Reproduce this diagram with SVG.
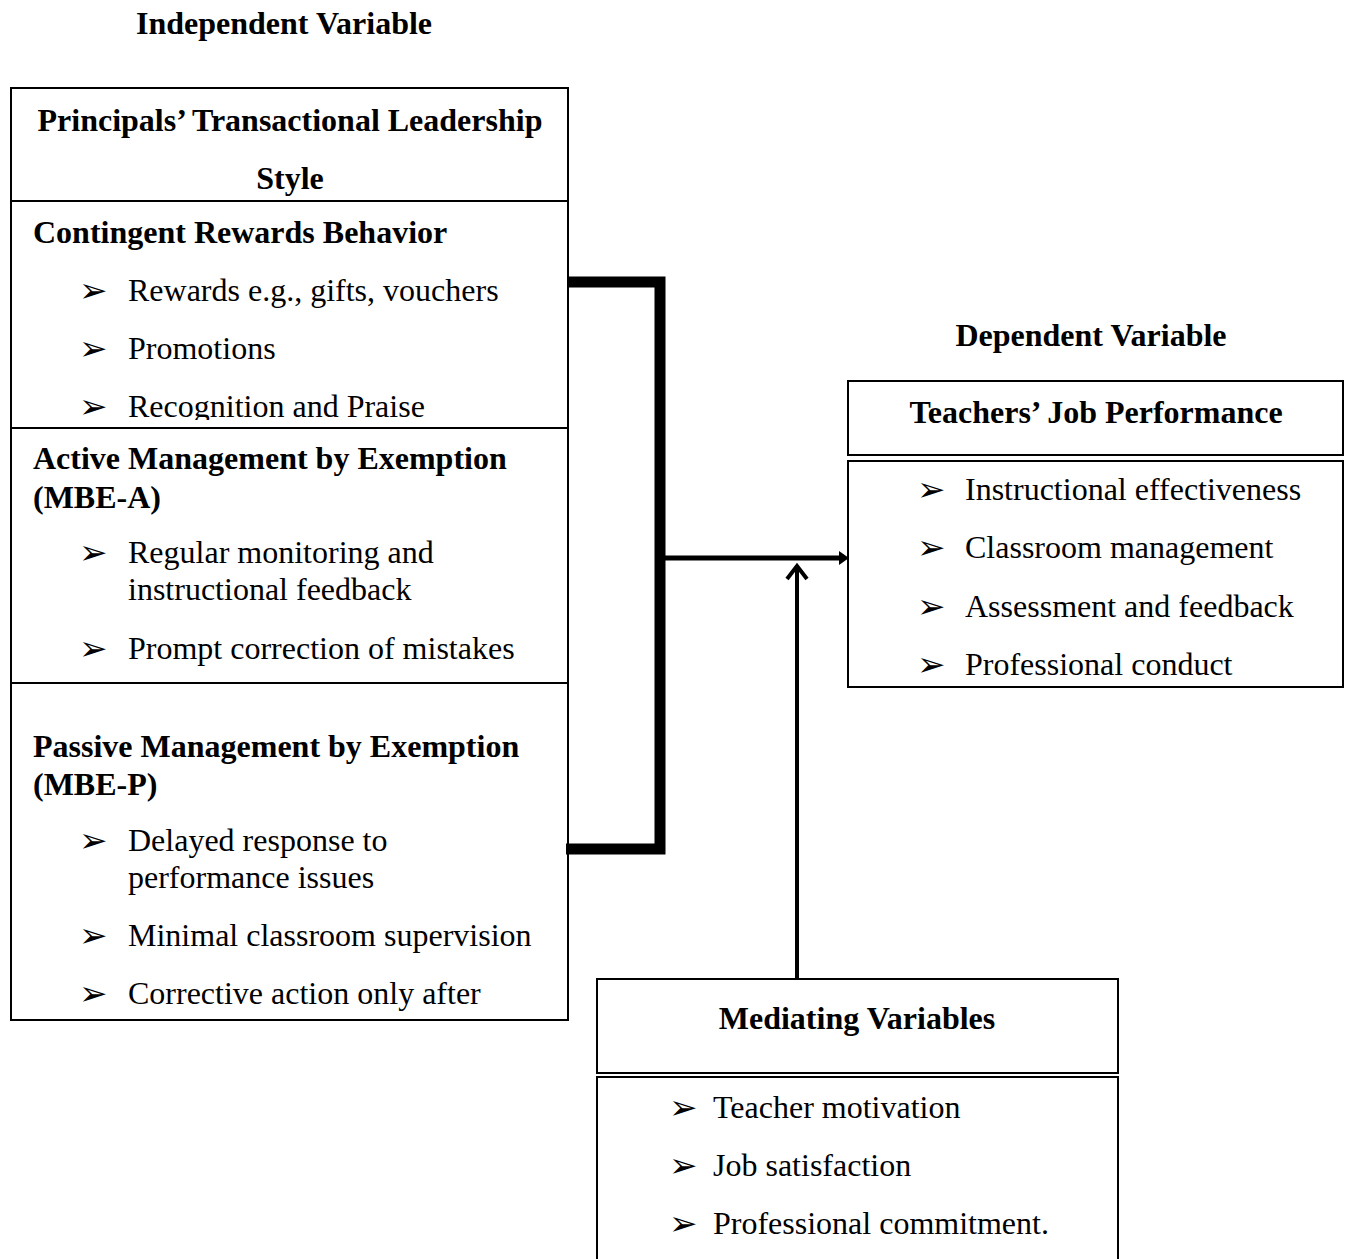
<svg xmlns="http://www.w3.org/2000/svg" width="1351" height="1259" viewBox="0 0 1351 1259">
<style>
.b{font-family:"Liberation Serif","Times New Roman",serif;font-weight:bold;font-size:32px;fill:#000}
.t{font-family:"Liberation Serif","Times New Roman",serif;font-size:32px;fill:#000}
.u{font-family:"DejaVu Sans",sans-serif;font-size:34px;fill:#000}
.box{fill:#fff;stroke:#000;stroke-width:2}
.mid{text-anchor:middle}
</style>
<rect width="1351" height="1259" fill="#fff"/>
<text class="b mid" x="284" y="34">Independent Variable</text>
<text class="b mid" x="1091" y="346">Dependent Variable</text>

<g id="independent">
<rect class="box" x="11" y="88" width="557" height="932"/>
<line x1="11" y1="201" x2="568" y2="201" stroke="#000" stroke-width="2"/>
<text class="b mid" x="290" y="131">Principals’ Transactional Leadership</text>
<text class="b mid" x="290" y="189">Style</text>
<text class="b" x="33" y="243">Contingent Rewards Behavior</text>
<text class="u" x="79" y="302">➢</text><text class="t" x="128" y="301">Rewards e.g., gifts, vouchers</text>
<text class="u" x="79" y="360">➢</text><text class="t" x="128" y="359">Promotions</text>
<text class="u" x="79" y="418">➢</text><text class="t" x="128" y="417">Recognition and Praise</text>
<rect x="12" y="420" width="555" height="8" fill="#fff"/>
<line x1="11" y1="428" x2="568" y2="428" stroke="#000" stroke-width="2"/>
<text class="b" x="33" y="469">Active Management by Exemption</text>
<text class="b" x="33" y="508">(MBE-A)</text>
<text class="u" x="79" y="564">➢</text><text class="t" x="128" y="563">Regular monitoring and</text>
<text class="t" x="128" y="600">instructional feedback</text>
<text class="u" x="79" y="660">➢</text><text class="t" x="128" y="659">Prompt correction of mistakes</text>
<line x1="11" y1="683" x2="568" y2="683" stroke="#000" stroke-width="2"/>
<text class="b" x="33" y="757">Passive Management by Exemption</text>
<text class="b" x="33" y="795">(MBE-P)</text>
<text class="u" x="79" y="852">➢</text><text class="t" x="128" y="851">Delayed response to</text>
<text class="t" x="128" y="888">performance issues</text>
<text class="u" x="79" y="947">➢</text><text class="t" x="128" y="946">Minimal classroom supervision</text>
<text class="u" x="79" y="1005">➢</text><text class="t" x="128" y="1004">Corrective action only after</text>
</g>

<g id="dependent">
<rect class="box" x="848" y="381" width="495" height="74"/>
<text class="b mid" x="1096" y="423">Teachers’ Job Performance</text>
<rect class="box" x="848" y="461" width="495" height="226"/>
<text class="u" x="917" y="501">➢</text><text class="t" x="965" y="500">Instructional effectiveness</text>
<text class="u" x="917" y="559">➢</text><text class="t" x="965" y="558">Classroom management</text>
<text class="u" x="917" y="618">➢</text><text class="t" x="965" y="617">Assessment and feedback</text>
<text class="u" x="917" y="676">➢</text><text class="t" x="965" y="675">Professional conduct</text>
</g>

<g id="mediating">
<rect class="box" x="597" y="979" width="521" height="94"/>
<text class="b mid" x="857" y="1029">Mediating Variables</text>
<rect class="box" x="597" y="1077" width="521" height="200"/>
<text class="u" x="669" y="1119">➢</text><text class="t" x="713" y="1118">Teacher motivation</text>
<text class="u" x="669" y="1177">➢</text><text class="t" x="713" y="1176">Job satisfaction</text>
<text class="u" x="669" y="1235">➢</text><text class="t" x="713" y="1234">Professional commitment.</text>
</g>

<g id="connectors">
<path d="M567,282 H660 V849 H566" fill="none" stroke="#000" stroke-width="11" stroke-linejoin="miter"/>
<line x1="665" y1="558" x2="842" y2="558" stroke="#000" stroke-width="5"/>
<polygon points="839,551 849,558 839,565" fill="#000"/>
<line x1="797" y1="979" x2="797" y2="567" stroke="#000" stroke-width="4"/>
<polyline points="787,579 797,566 807,579" fill="none" stroke="#000" stroke-width="4"/>
</g>
</svg>
